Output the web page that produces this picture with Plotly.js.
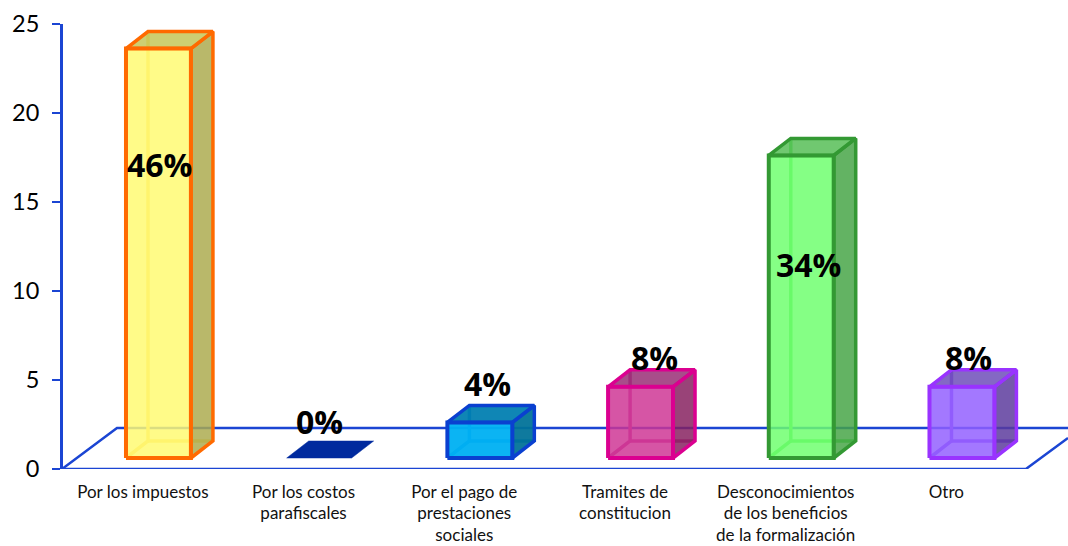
<!DOCTYPE html>
<html>
<head>
<meta charset="utf-8">
<script src="https://cdn.plot.ly/plotly-3.0.1.min.js"></script>
<style>html,body{margin:0;padding:0;background:#fff;overflow:hidden}</style>
</head>
<body>
<div id="chart" style="width:1068px;height:546px"></div>
<script>
const categories = ["Por los impuestos","Por los costos<br>parafiscales","Por el pago de<br>prestaciones<br>sociales","Tramites de<br>constitucion","Desconocimientos<br>de los beneficios<br>de la formalización","Otro"];
const values = [23, 0, 2, 4, 17, 4];
const percentLabels = ["46%","0%","4%","8%","34%","8%"];

const labelShiftX = [1, 0, 8, 14, 7, 7];
const labelShiftY = [-116, 37, 39, 29, -109, 29];

const frontColors = ["#FFFB88","#002A9E","#0BB4F3","#D655A5","#85FF85","#A378FF"];
const sideColors  = ["#B9B86A","#002A9E","#0F7A9E","#994378","#63B363","#7459AC"];
const topColors   = ["#CDCF72","#002A9E","#0F86B5","#A84D8A","#70C870","#8468C4"];
const edgeColors  = ["#FF6A00","#002A9E","#0A40D0","#DB0090","#339933","#9933FF"];
const innerColors = ["#FFD257","#002A9E","#0A6FD8","#C8409E","#55E055","#8F55F0"];

const AXIS_BLUE = "#1B45D3";
const halfW = 0.202, depthX = 0.137, depthY = 0.955, baseY = 0.618;
const ALPHA = 0.84;

function glass(hex){
  const n = parseInt(hex.slice(1),16);
  const rgb = [n>>16&255, n>>8&255, n&255];
  const a = Math.max(ALPHA, 1 - Math.min(...rgb)/255);
  const ch = rgb.map(v => Math.max(0,Math.round((v-255*(1-a))/a)));
  return `rgba(${ch[0]},${ch[1]},${ch[2]},${a.toFixed(3)})`;
}
function line(xs, ys, color, width, extra){
  return Object.assign({type:"scatter",mode:"lines",x:xs,y:ys,cliponaxis:false,
    line:{color:color,width:width,simplify:false},hoverinfo:"skip",showlegend:false},extra||{});
}
function poly(xs, ys, fill, color, width){
  return line(xs,ys,color,width,{fill:"toself",fillcolor:fill});
}

const traces = [];
// floor of the 3D box
traces.push(line([-0.6,5.398,5.66],[0,0,1.74],AXIS_BLUE,2.5));
traces.push(line([-0.6,-0.258,5.66],[0,2.3,2.3],AXIS_BLUE,2.5));

values.forEach((v,i)=>{
  const L=i-halfW, R=i+halfW, B=baseY, T=baseY+v;
  const dx=depthX, dy=depthY;
  if(v===0){
    traces.push(poly([L,R,R+dx,L+dx,L],[B,B,B+dy,B+dy,B],frontColors[i],frontColors[i],0.5));
    return;
  }
  // hidden back edges seen through the glass
  traces.push(line([L,L+dx,L+dx],[B,B+dy,T+dy],innerColors[i],3.5));
  traces.push(line([L+dx,R+dx],[B+dy,B+dy],innerColors[i],3.5));
  // side, top, front
  traces.push(poly([R,R+dx,R+dx,R,R],[B,B+dy,T+dy,T,B],glass(sideColors[i]),edgeColors[i],3.5));
  traces.push(poly([L,L+dx,R+dx,R,L],[T,T+dy,T+dy,T,T],glass(topColors[i]),edgeColors[i],3.5));
  traces.push(poly([L,R,R,L,L],[B,B,T,T,B],glass(frontColors[i]),edgeColors[i],4));
});

const annotations = values.map((v,i)=>({
  x:i, y:baseY+v, xref:"x", yref:"y", text:percentLabels[i], showarrow:false,
  xshift:labelShiftX[i], yshift:labelShiftY[i], xanchor:"center", yanchor:"middle",
  font:{family:"Open Sans",size:32,color:"#000",weight:700}
}));

const layout = {
  width:1068, height:546, paper_bgcolor:"#fff", plot_bgcolor:"#fff", showlegend:false,
  margin:{l:63,r:0,t:24,b:77,pad:0},
  hovermode:false,
  xaxis:{range:[-0.594,5.66],showgrid:false,zeroline:false,showline:false,ticks:"",
    tickmode:"array",tickvals:categories.map((c,i)=>i-0.097),ticktext:categories,
    tickangle:0,ticklabelstandoff:11,
    tickfont:{family:"Lato",size:17,color:"#111"},fixedrange:true},
  yaxis:{range:[0,25],tickmode:"array",tickvals:[0,5,10,15,20,25],showgrid:false,zeroline:false,
    showline:true,linecolor:AXIS_BLUE,linewidth:3,ticks:"outside",ticklen:8,tickwidth:2.5,tickcolor:AXIS_BLUE,
    ticklabelstandoff:8,tickfont:{family:"Lato",size:23.5,color:"#000"},fixedrange:true},
  annotations:annotations
};

Plotly.newPlot("chart",traces,layout,{displayModeBar:false,staticPlot:true}).then(()=>{
  // reference uses a slightly different line pitch in its multi-line category labels
  document.querySelectorAll(".xtick text").forEach(t=>{
    t.querySelectorAll("tspan.line").forEach((s,i)=>s.setAttribute("dy",(i*1.26)+"em"));
  });
});
</script>
</body>
</html>
